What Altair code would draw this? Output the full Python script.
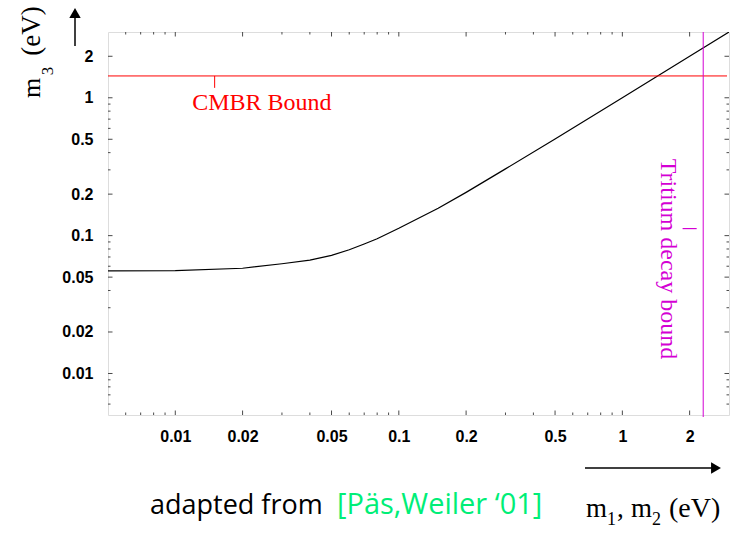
import altair as alt
import pandas as pd

# Lightest-state mass m1 (= m2, eV) and the resulting m3 (eV)
m1_values = [0.005, 0.01, 0.02, 0.03, 0.04, 0.05, 0.06, 0.07, 0.08, 0.1, 0.15, 0.2, 0.3, 0.5, 1.0, 2.0, 3.0]
m3_values = [0.0556, 0.0558, 0.058, 0.0625, 0.0665, 0.072, 0.079, 0.087, 0.095, 0.113, 0.158, 0.206, 0.305, 0.503, 1.0, 2.0, 3.0]

# Experimental bounds (eV)
cmbr_bound = 1.44
tritium_bound = 2.3

# Axis ticks
label_ticks = [0.01, 0.02, 0.05, 0.1, 0.2, 0.5, 1, 2]
minor_ticks = [0.006, 0.007, 0.008, 0.009, 0.03, 0.04, 0.06, 0.07, 0.08, 0.09,
               0.3, 0.4, 0.6, 0.7, 0.8, 0.9]

W, H = 621, 383
DOMAIN = [0.005, 3]
SERIF = "Liberation Serif"
SANS = "Liberation Sans"
FRAME = "#4a4a4a"
RED = "#ff0000"
MAGENTA = "#d400d4"

xs = alt.Scale(type="log", domain=DOMAIN, nice=False)
ys = alt.Scale(type="log", domain=DOMAIN, nice=False)

axis_common = dict(
    values=label_ticks, ticks=False, domain=False, grid=False, format="~g",
    labelFont=SANS, labelFontWeight="bold", labelFontSize=16, labelColor="black",
    labelOverlap=False, labelFlush=False, title=None,
)
x_axis = alt.Axis(labelPadding=13, **axis_common)
y_axis = alt.Axis(labelPadding=15, **axis_common)


def xf(field):
    return alt.X(field, type="quantitative", scale=xs, axis=x_axis)


def yf(field):
    return alt.Y(field, type="quantitative", scale=ys, axis=y_axis)


def xd(v):
    return alt.XDatum(v, type="quantitative", scale=xs, axis=x_axis)


def x2d(v):
    return alt.X2Datum(v)


def yd(v):
    return alt.YDatum(v, type="quantitative", scale=ys, axis=y_axis)


def y2d(v):
    return alt.Y2Datum(v)


curve_df = pd.DataFrame({"m1": m1_values, "m3": m3_values})
major_df = pd.DataFrame({"v": label_ticks})
minor_df = pd.DataFrame({"v": minor_ticks})

curve = alt.Chart(curve_df).mark_line(color="black", strokeWidth=1.2, clip=True).encode(
    x=xf("m1"), y=yf("m3"),
)


def inward_ticks(df, length):
    """Tick marks pointing into the frame on all four sides."""
    base = alt.Chart(df).mark_rule(color=FRAME, strokeWidth=1)
    bottom = base.encode(x=xf("v"), y=alt.value(H), y2=alt.value(H - length))
    top = base.encode(x=xf("v"), y=alt.value(0), y2=alt.value(length))
    left = base.encode(y=yf("v"), x=alt.value(0), x2=alt.value(length))
    right = base.encode(y=yf("v"), x=alt.value(W), x2=alt.value(W - length))
    return [bottom, top, left, right]


ticks = inward_ticks(major_df, 4.5) + inward_ticks(minor_df, 2.5)

one = pd.DataFrame({"k": [0]})

# CMBR bound: horizontal line, marker tick and label
cmbr_line = alt.Chart(one).mark_rule(color=RED, strokeWidth=1).encode(
    y=yd(cmbr_bound), x=alt.value(0), x2=alt.value(W - 2))
cmbr_tick = alt.Chart(one).mark_rule(color=RED, strokeWidth=1).encode(
    x=xd(0.015), y=yd(cmbr_bound), y2=y2d(1.18))
cmbr_text = alt.Chart(one).mark_text(
    text="CMBR Bound", color=RED, font=SERIF, fontSize=24, align="left", baseline="alphabetic"
).encode(x=xd(0.0119), y=yd(0.82))

# Tritium decay bound: vertical line, marker tick and rotated label
tritium_line = alt.Chart(one).mark_rule(color=MAGENTA, strokeWidth=1).encode(
    x=xd(tritium_bound), y=alt.value(0), y2=alt.value(H + 2))
tritium_tick = alt.Chart(one).mark_rule(color=MAGENTA, strokeWidth=1.2).encode(
    x=xd(1.86), x2=x2d(2.15), y=yd(0.1125))
tritium_text = alt.Chart(one).mark_text(
    text="Tritium decay bound", color=MAGENTA, font=SERIF, fontSize=24, angle=90,
    align="center", baseline="alphabetic"
).encode(x=xd(1.49), y=alt.value(227))


def label(text, x, y, size, font=SERIF, color="black", angle=0, align="left"):
    return alt.Chart(one).mark_text(
        text=text, font=font, fontSize=size, color=color, angle=angle, align=align,
        baseline="alphabetic",
    ).encode(x=alt.value(x), y=alt.value(y))


# y-axis title: m_3 (eV), reading upward
y_title = [
    label("m", -68, 56, 26, angle=270, align="center"),
    label("3", -55, 39, 17, angle=270, align="center"),
    label("(eV)", -68, -1, 27, angle=270, align="center"),
]

# x-axis title: m_1, m_2 (eV)
x_title = [
    label("m", 478, 485, 27),
    label("1", 499, 493, 18),
    label(",", 509, 485, 27),
    label("m", 523, 485, 27),
    label("2", 544, 493, 18),
    label("(eV)", 561, 485, 28),
]

# Direction arrows beside the axes
y_arrow = [
    alt.Chart(one).mark_rule(color="black", strokeWidth=1.5).encode(
        x=alt.value(-33), y=alt.value(14), y2=alt.value(-16)),
    alt.Chart(one).mark_point(shape="triangle-up", filled=True, color="black", opacity=1, size=130).encode(
        x=alt.value(-33), y=alt.value(-19)),
]
x_arrow = [
    alt.Chart(one).mark_rule(color="black", strokeWidth=1.5).encode(
        x=alt.value(477), x2=alt.value(604), y=alt.value(436)),
    alt.Chart(one).mark_point(shape="triangle-right", filled=True, color="black", opacity=1, size=130).encode(
        x=alt.value(608), y=alt.value(436)),
]

credit = [
    label("adapted from", 42, 482, 27, font="Open Sans"),
    label("[Päs,Weiler \u201801]", 229, 482, 29, font="Open Sans", color="#00ee77"),
]

chart = alt.layer(
    curve, *ticks, cmbr_line, cmbr_tick, cmbr_text, tritium_line, tritium_tick, tritium_text,
    *y_title, *x_title, *y_arrow, *x_arrow, *credit,
).properties(
    width=W, height=H,
    autosize=alt.AutoSizeParams(type="none"),
    padding={"left": 108, "top": 32, "right": 11, "bottom": 119},
).configure_view(
    stroke=FRAME, strokeWidth=1.5,
).configure(background="white")

chart.save("out.html", embed_options={"renderer": "svg", "actions": False})
